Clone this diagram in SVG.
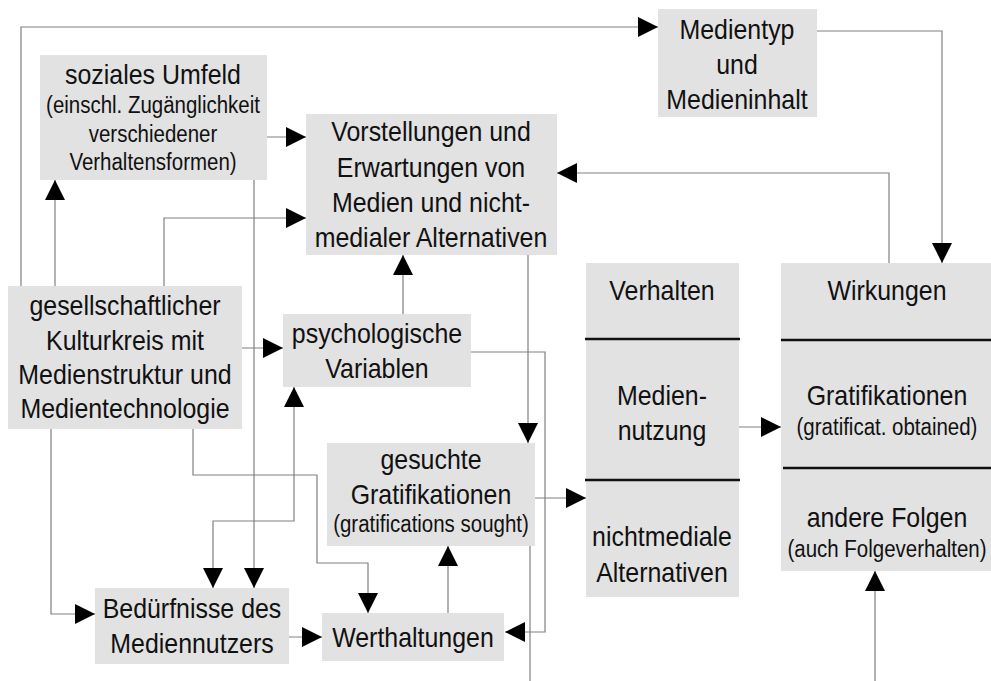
<svg xmlns="http://www.w3.org/2000/svg" width="991" height="681" viewBox="0 0 991 681">
<style>
.box{fill:#e2e2e2;stroke:none}
.t{font-family:"Liberation Sans",Arial,sans-serif;font-size:28px;fill:#111;text-anchor:middle}
.s{font-size:23px}
.c{fill:none;stroke:#808080;stroke-width:1.2}
.div{stroke:#111;stroke-width:2.5}
</style>
<defs>
<marker id="ah" viewBox="0 0 20 20" refX="20" refY="10" markerWidth="20" markerHeight="20" markerUnits="userSpaceOnUse" orient="auto-start-reverse">
<path d="M0,0 L20,10 L0,20 z" fill="#000"/>
</marker>
</defs>
<rect width="991" height="681" fill="#fff"/>

<g id="connectors">
<path class="c" d="M21,286 V27 H658" marker-end="url(#ah)"/>
<path class="c" d="M817,31 H942 V263" marker-end="url(#ah)"/>
<path class="c" d="M889,263 V173 H557" marker-end="url(#ah)"/>
<path class="c" d="M267,137 H306" marker-end="url(#ah)"/>
<path class="c" d="M55,286 V180" marker-end="url(#ah)"/>
<path class="c" d="M164,286 V218 H306" marker-end="url(#ah)"/>
<path class="c" d="M254,180 V588" marker-end="url(#ah)"/>
<path class="c" d="M403,314 V255" marker-end="url(#ah)"/>
<path class="c" d="M528,255 V443" marker-end="url(#ah)"/>
<path class="c" d="M242,348 H283" marker-end="url(#ah)"/>
<path class="c" d="M51,429 V614 H95" marker-end="url(#ah)"/>
<path class="c" d="M193,429 V475 H317 V563 H368 V613" marker-end="url(#ah)"/>
<path class="c" d="M471,352 H545 V632 H505" marker-end="url(#ah)"/>
<path class="c" d="M294,387 V521 H213 V588" marker-start="url(#ah)" marker-end="url(#ah)"/>
<path class="c" d="M289,637 H322" marker-end="url(#ah)"/>
<path class="c" d="M448,613 V546" marker-end="url(#ah)"/>
<path class="c" d="M535,498 H586" marker-end="url(#ah)"/>
<path class="c" d="M530,546 V681"/>
<path class="c" d="M739,427 H781" marker-end="url(#ah)"/>
<path class="c" d="M875,681 V571" marker-end="url(#ah)"/>
</g>

<g id="medientyp">
<rect class="box" x="658" y="9" width="159" height="108"/>
<g transform="matrix(0.89 0 0 1 81.07 0)">
<text class="t" x="737" y="39">Medientyp</text>
<text class="t" x="737" y="74">und</text>
<text class="t" x="737" y="109">Medieninhalt</text>
</g>
</g>

<g id="soziales-umfeld">
<rect class="box" x="40" y="55" width="227" height="125"/>
<g transform="matrix(0.89 0 0 1 16.83 0)">
<text class="t" x="153" y="84">soziales Umfeld</text>
<text class="t s" x="153" y="113">(einschl. Zugänglichkeit</text>
<text class="t s" x="153" y="142">verschiedener</text>
<text class="t s" x="153" y="170">Verhaltensformen)</text>
</g>
</g>

<g id="vorstellungen">
<rect class="box" x="306" y="114" width="251" height="141"/>
<g transform="matrix(0.89 0 0 1 47.41 0)">
<text class="t" x="431" y="141">Vorstellungen und</text>
<text class="t" x="431" y="177">Erwartungen von</text>
<text class="t" x="431" y="212">Medien und nicht-</text>
<text class="t" x="431" y="247">medialer Alternativen</text>
</g>
</g>

<g id="gesellschaftlicher-kulturkreis">
<rect class="box" x="8" y="286" width="234" height="143"/>
<g transform="matrix(0.89 0 0 1 13.75 0)">
<text class="t" x="125" y="315">gesellschaftlicher</text>
<text class="t" x="125" y="350">Kulturkreis mit</text>
<text class="t" x="125" y="384">Medienstruktur und</text>
<text class="t" x="125" y="418">Medientechnologie</text>
</g>
</g>

<g id="psychologische-variablen">
<rect class="box" x="283" y="314" width="188" height="73"/>
<g transform="matrix(0.89 0 0 1 41.47 0)">
<text class="t" x="377" y="343">psychologische</text>
<text class="t" x="377" y="378">Variablen</text>
</g>
</g>

<g id="gesuchte-gratifikationen">
<rect class="box" x="327" y="443" width="208" height="103"/>
<g transform="matrix(0.89 0 0 1 47.41 0)">
<text class="t" x="431" y="469">gesuchte</text>
<text class="t" x="431" y="504">Gratifikationen</text>
<text class="t s" x="431" y="532">(gratifications sought)</text>
</g>
</g>

<g id="beduerfnisse">
<rect class="box" x="95" y="588" width="194" height="76"/>
<g transform="matrix(0.89 0 0 1 21.12 0)">
<text class="t" x="192" y="618">Bedürfnisse des</text>
<text class="t" x="192" y="653">Mediennutzers</text>
</g>
</g>

<g id="werthaltungen">
<rect class="box" x="322" y="613" width="182" height="48"/>
<g transform="matrix(0.89 0 0 1 45.43 0)">
<text class="t" x="413" y="647">Werthaltungen</text>
</g>
</g>

<g id="verhalten">
<rect class="box" x="586" y="263" width="153" height="334"/>
<line class="div" x1="585" y1="339" x2="740" y2="339"/>
<line class="div" x1="585" y1="480" x2="740" y2="480"/>
<g transform="matrix(0.89 0 0 1 72.82 0)">
<text class="t" x="662" y="300">Verhalten</text>
<text class="t" x="662" y="405">Medien-</text>
<text class="t" x="662" y="440">nutzung</text>
<text class="t" x="662" y="546">nichtmediale</text>
<text class="t" x="662" y="582">Alternativen</text>
</g>
</g>

<g id="wirkungen">
<rect class="box" x="781" y="263" width="210" height="308"/>
<line class="div" x1="781" y1="340" x2="991" y2="340"/>
<line class="div" x1="783" y1="468" x2="991" y2="468"/>
<g transform="matrix(0.89 0 0 1 97.57 0)">
<text class="t" x="887" y="300">Wirkungen</text>
<text class="t" x="887" y="405">Gratifikationen</text>
<text class="t s" x="887" y="435">(gratificat. obtained)</text>
<text class="t" x="887" y="527">andere Folgen</text>
<text class="t s" x="887" y="557">(auch Folgeverhalten)</text>
</g>
</g>
</svg>
